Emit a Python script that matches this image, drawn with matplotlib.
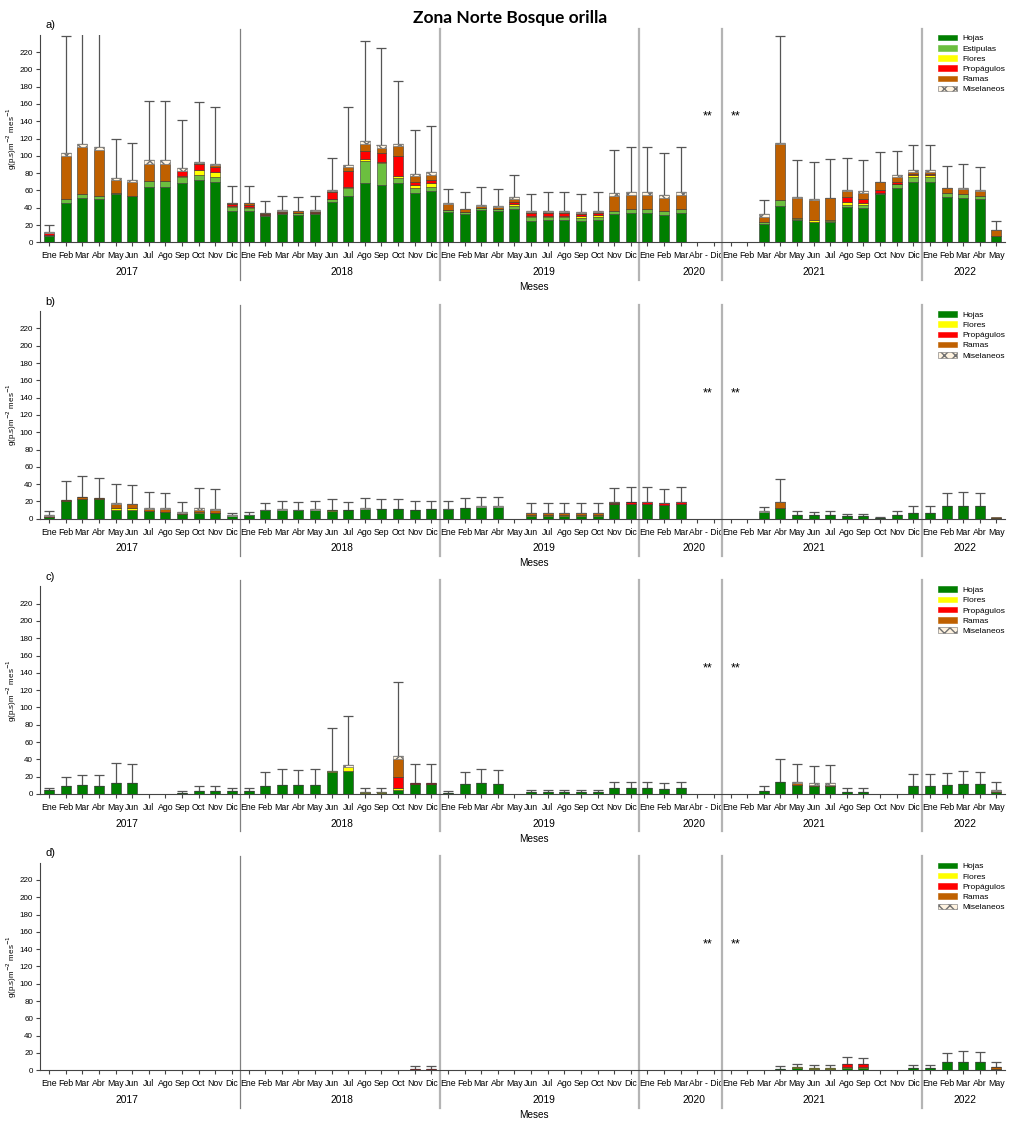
# Hojarasca - Zona Norte Bosque orilla
#--------------------------------------
import numpy as np
import matplotlib.pyplot as plt
import matplotlib.transforms as mtransforms
from matplotlib.patches import Patch

plt.rcParams['font.family'] = ['Liberation Sans', 'DejaVu Sans']

# ====================
# Datos
# ====================
meses = ['Ene', 'Feb', 'Mar', 'Abr', 'May', 'Jun', 'Jul', 'Ago', 'Sep', 'Oct', 'Nov', 'Dic']
# 2017-2019 completos, 2020 Ene-Mar + Abr-Dic (2 posiciones), 2021 completo, 2022 Ene-May
etiquetas = meses * 3 + ['Ene', 'Feb', 'Mar', '', ''] + meses + meses[:5]
anios = ['2017', '2018', '2019', '2020', '2021', '2022']

# panel a)
a_hojas = [7, 46, 51, 50, 56, 54, 64, 64, 68.6, 72.4, 70, 36.6,
           36.6, 30, 33, 32, 32.4, 46.6, 53, 68.6, 66.7, 68.2, 57, 59,
           34.7, 33, 37.4, 36.6, 38.5, 25, 26, 26, 25, 26, 32.8, 33.5,
           33.5, 31.6, 33.5, 0, 0,
           0, 0, 21.6, 42, 25.4, 23, 23.5, 40.5, 39.3, 56, 63, 70,
           70, 52.8, 51.6, 50, 7]
a_estipulas = [1, 4, 5, 4, 0.5, 0, 7, 7, 7.4, 5.6, 5, 3.9,
               3.4, 2, 1, 1.5, 1.6, 3, 10, 25.8, 24.6, 6.2, 6, 5.4,
               2.3, 2, 2.3, 1.9, 3.5, 4, 3, 3, 3, 3.7, 3.8, 4.5,
               4.5, 4.2, 4.5, 0, 0,
               0, 0, 2.4, 6.6, 1, 1, 1, 3, 3.5, 0.5, 4, 6,
               6, 3.8, 3.9, 4, 0]
a_flores = [0, 0, 0, 0, 0, 0, 0, 0, 1, 6, 6, 1.1,
            1, 0, 0, 0, 0, 0.5, 0.6, 1.6, 1.2, 2.6, 3.7, 4.2,
            0, 0, 0, 0, 2.3, 2, 2, 2, 2.4, 1.9, 0, 0,
            0, 0, 0, 0, 0,
            0, 0, 0, 0, 1.6, 1.8, 1.5, 3.1, 2.2, 0, 1, 2,
            2, 0, 0, 0, 0]
a_propagulos = [2.5, 0, 0, 0, 0, 0, 0, 0, 5, 7, 6.5, 2.4,
                2.5, 0.5, 0.5, 0.5, 0.5, 8.5, 19.4, 10, 10.5, 23, 3, 3.4,
                0.5, 0.5, 0.5, 0.5, 2.7, 2.5, 2.5, 2.5, 2.6, 2.4, 0, 0,
                0, 0, 0, 0, 0,
                0, 0, 0, 0, 0, 0, 0, 6.2, 5.5, 4, 2, 1,
                1, 0, 0, 0, 0]
a_ramas = [0.5, 50, 54, 53, 16, 16, 20, 20, 1, 0.5, 1.5, 1,
           1.5, 1, 2, 1.8, 1.5, 0.7, 4.5, 7.7, 6, 11.8, 7.3, 6,
           6.5, 2.5, 1.8, 2, 3, 1.2, 1.2, 1.2, 1, 1, 16.4, 16.7,
           16.7, 15.8, 16.7, 0, 0,
           0, 0, 5.7, 65.1, 23, 23.2, 25, 6.2, 6.1, 8.9, 6, 2,
           2.7, 5.8, 5.8, 5.3, 7.3]
a_miselaneos = [1, 3, 4, 3, 1.5, 2, 4, 4, 3, 1.5, 1, 1,
                1, 0.5, 0.5, 0.2, 1, 1.2, 2, 3.3, 4, 2.2, 2.4, 3,
                1, 1, 1, 1, 2.4, 1.1, 1.9, 1.9, 1.5, 1.6, 3.6, 3.3,
                3.3, 3.1, 3.3, 0, 0,
                0, 0, 3.1, 0.8, 1, 0.7, 0.6, 2, 2.4, 0.6, 2, 3,
                2.3, 0.6, 1.1, 1.2, 0.3]
a_error = [8, 136, 156, 150, 45, 43, 68, 68, 56, 69, 67, 19,
           19, 14, 17, 16, 17, 36.5, 66.5, 116, 112, 72, 50.6, 53.5,
           17, 19, 21, 20, 25, 20, 21.4, 21.4, 20.5, 21.4, 50, 52,
           52, 48.3, 52, 0, 0,
           0, 0, 16.2, 124.5, 43.6, 43.3, 45, 37, 36, 35, 27.6, 28,
           28, 25, 27.6, 27, 10.4]

# panel b)
b_hojas = [2, 21, 22.7, 22.3, 10, 9.6, 8.5, 8, 6, 7, 6.5, 3.5,
           3.8, 9.6, 10.4, 10, 10.4, 8.5, 10, 11.5, 11, 11, 10.4, 10.8,
           10.8, 12.7, 13.8, 13.5, 0, 2.7, 2.7, 2.7, 2.7, 2.7, 16.5, 17.3,
           17.3, 15.8, 17.3, 0, 0,
           0, 0, 8, 12.3, 4.6, 4.2, 4.2, 3, 2.7, 1.2, 4.2, 6.9,
           6.9, 14.6, 15, 14.6, 1.2]
b_flores = [0, 0, 0, 0, 2.3, 2.4, 0, 0, 0, 0.7, 0.5, 0,
            0, 0, 0, 0, 0, 1.1, 0, 0, 0, 0, 0, 0,
            0, 0, 0, 0, 0, 1.5, 1.5, 1.5, 1.5, 1.5, 0, 0,
            0, 0, 0, 0, 0,
            0, 0, 0, 0, 0, 0, 0, 0, 0, 0, 0, 0,
            0, 0, 0, 0, 0]
b_propagulos = [0.5, 0, 0, 0, 0, 0, 0, 0, 0, 0, 0, 0,
                0, 0, 0, 0, 0, 0, 0, 0, 0, 0, 0, 0,
                0, 0, 0, 0, 0, 0, 0, 0, 0, 0, 1.5, 1.5,
                1.9, 1.9, 1.9, 0, 0,
                0, 0, 0, 0, 0, 0, 0, 0, 0, 0, 0, 0,
                0, 0, 0, 0, 0]
b_ramas = [1, 1, 1.9, 1.5, 5, 4.5, 2.5, 2.8, 1, 2.7, 3.4, 0,
           0, 0, 0, 0, 0, 0.8, 0, 0, 0, 0, 0, 0,
           0, 0, 0, 0, 0, 2, 2, 2, 2, 2, 0.8, 0.8,
           0, 0.5, 0, 0, 0,
           0, 0, 0, 6.5, 0, 0, 0, 0, 0, 0, 0, 0,
           0, 0, 0, 0, 0.3]
b_miselaneos = [0.3, 0, 0, 0, 0.7, 0.8, 1.3, 1.5, 0.3, 1.6, 1.1, 0.7,
                0.4, 0.4, 0.6, 0.4, 0.4, 0, 0, 0.5, 0, 0, 0, 0,
                0.2, 0, 0.8, 0.7, 0, 0.3, 0.3, 0.3, 0.3, 0.3, 0.4, 0,
                0.4, 0.3, 0.4, 0, 0,
                0, 0, 0.5, 0.4, 0, 0, 0, 0, 0, 0, 0, 0,
                0, 0, 0, 0, 0]
b_error = [5, 22, 24.4, 23.2, 22, 21.2, 18.1, 17.7, 11.5, 23, 22.5, 2.8,
           3.1, 7.7, 9, 8.8, 9.2, 11.9, 8.8, 11.5, 11.7, 11.7, 9.6, 10,
           9.8, 10.8, 10.8, 10.4, 0, 11.2, 12, 12, 11.2, 12, 16.6, 17.4,
           17.4, 15.7, 17.4, 0, 0,
           0, 0, 5, 26.2, 4.6, 3.8, 4.3, 2.8, 3.1, 1.1, 4.3, 7.7,
           7.7, 15.4, 16, 15.4, 0]

# panel c)
c_hojas = [4.2, 8.8, 10, 9.6, 13, 12.7, 0.3, 0, 1.2, 3.8, 3.8, 3,
           3, 9.6, 10.4, 10.4, 10.4, 25, 27, 1.2, 1.2, 5, 11.5, 12,
           1.2, 11.2, 12.3, 12, 0, 2, 2, 2, 2, 2, 6.5, 6.5,
           6.5, 6.2, 6.5, 0, 0,
           0, 0, 3.5, 14.2, 10.8, 8.8, 8.8, 2.3, 2.3, 0, 0, 9.2,
           9.2, 10.4, 11.5, 11.2, 2]
c_flores = [0, 0, 0, 0, 0, 0, 0, 0, 0, 0, 0, 0,
            0, 0, 0, 0, 0, 1.5, 3.8, 1.1, 1.1, 1.5, 0, 0,
            0, 0, 0, 0, 0, 0, 0, 0, 0, 0, 0, 0,
            0, 0, 0, 0, 0,
            0, 0, 0, 0, 0, 0, 0, 0, 0, 0, 0, 0,
            0, 0, 0, 0, 0]
c_propagulos = [0, 0, 0, 0, 0, 0, 0, 0, 0, 0, 0, 0,
                0, 0, 0, 0, 0, 0, 0, 0, 0, 13.1, 0.8, 0.7,
                0, 0, 0, 0, 0, 0, 0, 0, 0, 0, 0, 0,
                0, 0, 0, 0, 0,
                0, 0, 0, 0, 0, 0, 0, 0, 0, 0, 0, 0,
                0, 0, 0, 0, 0]
c_ramas = [0, 0, 0, 0, 0, 0, 0, 0, 0, 0, 0, 0,
           0, 0, 0, 0, 0, 0, 0, 0, 0, 21.2, 0, 0,
           0, 0, 0, 0, 0, 0, 0, 0, 0, 0, 0, 0,
           0, 0, 0, 0, 0,
           0, 0, 0, 0, 1.9, 2, 2, 0, 0, 0, 0, 0,
           0, 0, 0, 0, 1.8]
c_miselaneos = [0, 0, 0, 0, 0, 0, 0, 0, 0, 0, 0, 0,
                0, 0, 0, 0, 0, 0.5, 2.2, 0.2, 0.2, 2.7, 0, 0,
                0, 0, 0, 0, 0, 0, 0, 0, 0, 0, 0, 0,
                0, 0, 0, 0, 0,
                0, 0, 0, 0, 1.5, 2.2, 2.2, 0, 0, 0, 0, 0,
                0, 0, 0, 0, 1.2]
c_error = [2.8, 11.2, 12, 11.9, 22.4, 21.5, 0, 0, 1.8, 5, 5, 4.3,
           4.3, 16.2, 18.4, 17.3, 18.4, 49.5, 57.4, 4.8, 4.8, 86.5, 21.9, 22.3,
           2.6, 14.8, 16.9, 16, 0, 3, 3, 3, 3, 3, 7.7, 7.7,
           7.7, 6.8, 7.7, 0, 0,
           0, 0, 5.3, 26.8, 20, 19.3, 20, 5, 5, 0, 0, 13.8,
           13.8, 14.2, 15.5, 14.8, 8.8]

# panel d)
d_hojas = [0, 0, 0, 0, 0, 0, 0, 0, 0, 0, 0, 0,
           0, 0, 0, 0, 0, 0, 0, 0, 0, 0, 0, 0,
           0, 0, 0, 0, 0, 0, 0, 0, 0, 0, 0, 0,
           0, 0, 0, 0, 0,
           0, 0, 0, 1.5, 2.3, 2, 2, 2.3, 2.3, 0, 0, 3,
           3, 9.2, 10, 9.2, 2]
d_flores = [0, 0, 0, 0, 0, 0, 0, 0, 0, 0, 0, 0,
            0, 0, 0, 0, 0, 0, 0, 0, 0, 0, 0, 0,
            0, 0, 0, 0, 0, 0, 0, 0, 0, 0, 0, 0,
            0, 0, 0, 0, 0,
            0, 0, 0, 0, 1.2, 0.7, 0.7, 1.5, 1.2, 0, 0, 0,
            0, 0, 0, 0, 0]
d_propagulos = [0, 0, 0, 0, 0, 0, 0, 0, 0, 0, 0, 0,
                0, 0, 0, 0, 0, 0, 0, 0, 0, 0, 1.5, 2,
                0, 0, 0, 0, 0, 0, 0, 0, 0, 0, 0, 0,
                0, 0, 0, 0, 0,
                0, 0, 0, 0, 0, 0, 0, 3.1, 3.4, 0, 0, 0,
                0, 0, 0, 0, 0]
d_ramas = [0, 0, 0, 0, 0, 0, 0, 0, 0, 0, 0, 0,
           0, 0, 0, 0, 0, 0, 0, 0, 0, 0, 0, 0,
           0, 0, 0, 0, 0, 0, 0, 0, 0, 0, 0, 0,
           0, 0, 0, 0, 0,
           0, 0, 0, 0, 0, 0, 0, 0, 0, 0, 0, 0,
           0, 0, 0, 0, 1.8]
d_miselaneos = [0] * 58
d_error = [0, 0, 0, 0, 0, 0, 0, 0, 0, 0, 0, 0,
           0, 0, 0, 0, 0, 0, 0, 0, 0, 0, 3.9, 3.4,
           0, 0, 0, 0, 0, 0, 0, 0, 0, 0, 0, 0,
           0, 0, 0, 0, 0,
           0, 0, 0, 3.1, 4.2, 3.5, 3.8, 8.5, 7.7, 0, 0, 2.8,
           2.8, 11.2, 12, 12, 5.4]

# ====================
# Estilos
# ====================
colores = {'Hojas': '#007f00', 'Estípulas': '#6cbf3f', 'Flores': '#ffff00',
           'Propágulos': '#ff0000', 'Ramas': '#bf6000', 'Miselaneos': '#fff3e0'}
leyenda_nombre = {'Estípulas': 'Estipulas'}

x = np.arange(len(etiquetas))
cortes = [11.5, 23.5, 35.5, 40.5, 52.5]
anio_x = [4.7, 17.6, 29.8, 38.8, 46.0, 55.1]

fig = plt.figure(figsize=(10.22, 11.24), dpi=100)
fig.text(0.499, 0.984, 'Zona Norte Bosque orilla', fontsize=12.5, fontweight='bold',
         family=['Lato', 'DejaVu Sans'], ha='center', va='center')

bottoms = [0.7844, 0.5385, 0.2936, 0.0478]


def plot_panel(ax, comps, err, letra):
    base = np.zeros(len(x))
    for nombre, vals in comps:
        vals = np.array(vals, dtype=float)
        m = vals > 0
        misc = nombre == 'Miselaneos'
        ax.bar(x[m], vals[m], 0.6, bottom=base[m], color=colores[nombre],
               edgecolor='#707070' if misc else '#333333', linewidth=0.4,
               hatch='xxx' if misc else None, zorder=3)
        base += vals

    err = np.array(err, dtype=float)
    m = err > 0
    ax.errorbar(x[m], base[m], yerr=[np.zeros(m.sum()), err[m]], fmt='none',
                ecolor='#555555', elinewidth=0.9, capsize=3.5, capthick=0.9, zorder=2)

    ax.set_xlim(-0.55, 57.5)
    ax.set_ylim(0, 240)
    ax.spines['top'].set_visible(False)
    ax.spines['right'].set_visible(False)
    for s in ['left', 'bottom']:
        ax.spines[s].set_color('#444444')
        ax.spines[s].set_linewidth(0.8)
    ax.set_yticks(range(0, 221, 20))
    ax.tick_params(axis='y', labelsize=5.8, length=3, color='#444444', pad=2)
    ax.set_xticks(x)
    ax.set_xticklabels(etiquetas, fontsize=6.3)
    ax.tick_params(axis='x', length=3, color='#444444', pad=3.5)
    ax.set_xticks([39.5], minor=True)
    ax.set_xticklabels(['Abr - Dic'], minor=True, fontsize=6.2)
    ax.tick_params(axis='x', which='minor', length=0, pad=6.5)
    ax.set_ylabel('g(p.s)m$^{-2}$ mes$^{-1}$', fontsize=5.8)
    ax.yaxis.set_label_coords(-0.022, 0.5)

    trans = mtransforms.blended_transform_factory(ax.transData, ax.transAxes)
    for i, c in enumerate(cortes):
        ax.plot([c, c], [-0.18, 1.03], transform=trans, clip_on=False,
                color='#808080' if i == 0 else '#b4b4b4', lw=0.9 if i == 0 else 1.6)
    for ax_x, a in zip(anio_x, anios):
        ax.text(ax_x, -0.143, a, transform=trans, ha='center', va='center', fontsize=7.4)
    ax.text(0.512, -0.215, 'Meses', transform=ax.transAxes, ha='center', va='center', fontsize=7.2)
    ax.text(0.006, 1.045, letra, transform=ax.transAxes, ha='left', va='center', fontsize=8)

    # sin muestreo
    ax.text(39.6, 145, '**', ha='center', va='center', fontsize=9)
    ax.text(41.3, 145, '**', ha='center', va='center', fontsize=9)

    handles = []
    for nombre, _ in comps:
        misc = nombre == 'Miselaneos'
        handles.append(Patch(facecolor=colores[nombre],
                             edgecolor='#707070' if misc else colores[nombre],
                             hatch='xxx' if misc else None, linewidth=0.4,
                             label=leyenda_nombre.get(nombre, nombre)))
    ax.legend(handles=handles, loc='upper left', bbox_to_anchor=(0.931, 1.0),
              frameon=False, fontsize=6, handlelength=2.3, handleheight=0.65,
              labelspacing=0.3, handletextpad=0.6, borderaxespad=0, borderpad=0)


paneles = [
    ([('Hojas', a_hojas), ('Estípulas', a_estipulas), ('Flores', a_flores),
      ('Propágulos', a_propagulos), ('Ramas', a_ramas), ('Miselaneos', a_miselaneos)], a_error, 'a)'),
    ([('Hojas', b_hojas), ('Flores', b_flores), ('Propágulos', b_propagulos),
      ('Ramas', b_ramas), ('Miselaneos', b_miselaneos)], b_error, 'b)'),
    ([('Hojas', c_hojas), ('Flores', c_flores), ('Propágulos', c_propagulos),
      ('Ramas', c_ramas), ('Miselaneos', c_miselaneos)], c_error, 'c)'),
    ([('Hojas', d_hojas), ('Flores', d_flores), ('Propágulos', d_propagulos),
      ('Ramas', d_ramas), ('Miselaneos', d_miselaneos)], d_error, 'd)'),
]

for bot, (comps, err, letra) in zip(bottoms, paneles):
    ax = fig.add_axes([0.0391, bot, 0.944, 0.1847])
    plot_panel(ax, comps, err, letra)

fig.savefig('out.png', dpi=100)
